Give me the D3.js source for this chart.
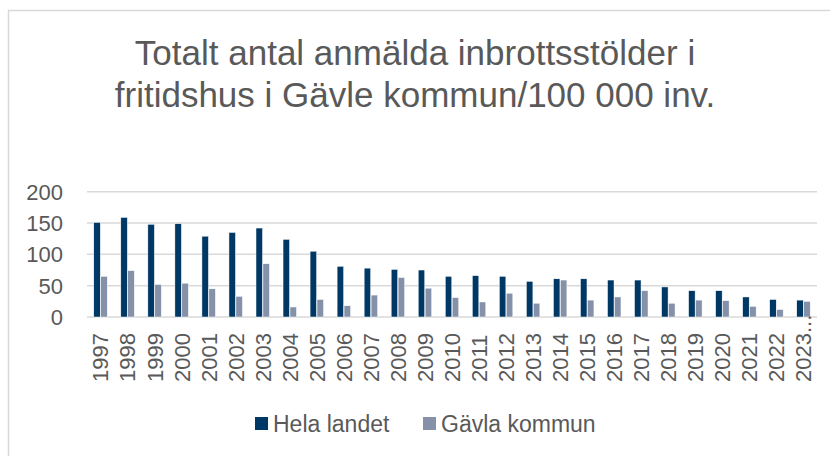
<!DOCTYPE html>
<html>
<head>
<meta charset="utf-8">
<script src="https://cdn.jsdelivr.net/npm/d3@7"></script>
<style>
  body { margin: 0; background: #fff; }
  text { font-family: Arial, "Liberation Sans", sans-serif; fill: #595959; }
</style>
</head>
<body>
<svg id="chart" width="830" height="456"></svg>
<script>
let w = 830
let h = 456

let years = ["1997","1998","1999","2000","2001","2002","2003","2004","2005","2006","2007","2008","2009","2010",
             "2011","2012","2013","2014","2015","2016","2017","2018","2019","2020","2021","2022","2023..."]
let helaLandet = [151,159,148,149,129,135,142,124,105,81,78,76,75,65,66,65,57,61,61,59,59,48,42,42,32,28,27]
let gavleKommun = [65,74,52,54,45,33,85,16,28,18,35,63,46,31,24,38,22,59,27,32,42,22,27,26,17,12,25]
let seriesNames = ["Hela landet", "Gävla kommun"]
let colorArr = ["#003865", "#8591a8"]
let yTicks = [0, 50, 100, 150, 200]
let titleLines = ["Totalt antal anmälda inbrottsstölder i", "fritidshus i Gävle kommun/100 000 inv."]

let svg = d3.select('#chart')

// outer frame
svg.append('rect')
  .attr('x', 8.5).attr('y', 10.5)
  .attr('width', 840).attr('height', 460)
  .attr('fill', 'none')
  .attr('stroke', '#d9d9d9')
  .attr('stroke-width', 1.5)

svg.append('g').selectAll('text')
  .data(titleLines)
  .join('text')
  .attr('x', w / 2)
  .attr('y', (d, i) => 65 + i * 42)
  .attr('text-anchor', 'middle')
  .style('font-size', '35px')
  .text(d => d)

let x = d3.scaleBand()
  .domain(years)
  .range([87, 817])
  .paddingInner(0.47)
  .paddingOuter(0.235)

let xInner = d3.scaleBand()
  .domain(seriesNames)
  .range([0, x.bandwidth()])
  .padding(0.06)

let y = d3.scaleLinear()
  .domain([0, 200])
  .range([317, 191.7])

// gridlines
svg.append('g').selectAll('line')
  .data(yTicks)
  .join('line')
  .attr('x1', 87).attr('x2', 817)
  .attr('y1', d => y(d)).attr('y2', d => y(d))
  .attr('stroke', '#d9d9d9')
  .attr('stroke-width', 1.5)

svg.append('g').selectAll('text')
  .data(yTicks)
  .join('text')
  .attr('x', 63)
  .attr('y', d => y(d))
  .attr('dy', '0.36em')
  .attr('text-anchor', 'end')
  .style('font-size', '22px')
  .text(d => d)

let rows = years.map((yr, i) => ({ year: yr, values: [helaLandet[i], gavleKommun[i]] }))

let groups = svg.append('g').selectAll('g')
  .data(rows)
  .join('g')
  .attr('transform', d => 'translate(' + x(d.year) + ',0)')

groups.selectAll('rect')
  .data(d => d.values.map((v, k) => ({ name: seriesNames[k], value: v, k: k })))
  .join('rect')
  .attr('x', d => xInner(d.name))
  .attr('y', d => y(d.value))
  .attr('width', xInner.bandwidth())
  .attr('height', d => y(0) - y(d.value))
  .attr('fill', d => colorArr[d.k])
  .attr('stroke', '#fff')
  .attr('stroke-width', 0.5)

// x labels, rotated
svg.append('g').selectAll('text')
  .data(years)
  .join('text')
  .attr('transform', d => 'translate(' + (x(d) + x.bandwidth() / 2) + ',382) rotate(-90)')
  .attr('dy', '0.36em')
  .attr('text-anchor', 'start')
  .style('font-size', '22px')
  .text(d => d)

// legend
let legendX = [255, 423]
let legend = svg.append('g').selectAll('g')
  .data(seriesNames)
  .join('g')
  .attr('transform', (d, i) => 'translate(' + legendX[i] + ',417)')

legend.append('rect')
  .attr('width', 13).attr('height', 13)
  .attr('fill', (d, i) => colorArr[i])

legend.append('text')
  .attr('x', 18)
  .attr('y', 15)
  .style('font-size', '23px')
  .text(d => d)
</script>
</body>
</html>
